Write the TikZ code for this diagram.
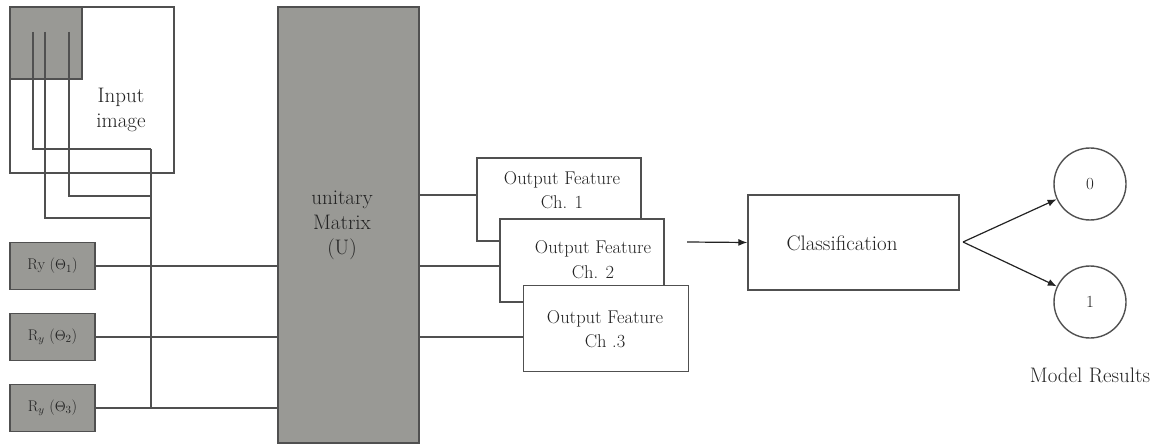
\documentclass[tikz,border=0pt]{standalone}
\usetikzlibrary{arrows.meta}
\definecolor{boxgray}{RGB}{153,153,149}
\definecolor{linegray}{RGB}{80,80,80}
\definecolor{txtgray}{RGB}{35,35,35}
\begin{document}
\begin{tikzpicture}[x=1pt,y=-1pt,
  ln/.style={draw=linegray,line width=1.4pt},
  arr/.style={draw=txtgray,line width=1.2pt,-{Latex[length=9pt,width=7pt]}},
  bx/.style={draw=linegray,line width=1.4pt,inner sep=0pt},
  wbox/.style={bx,fill=white},
  gbox/.style={bx,fill=boxgray},
  txt/.style={font=\fontsize{21}{25}\selectfont,text=txtgray,align=center,inner sep=0pt},
  otxt/.style={font=\fontsize{18.5}{24.5}\selectfont,text=txtgray,align=center,inner sep=0pt},
  small/.style={font=\fontsize{15.5}{18}\selectfont,text=txtgray,inner sep=0pt},
  circ/.style={circle,draw=linegray,line width=1.4pt,minimum size=72pt,inner sep=0pt,font=\fontsize{17}{20}\selectfont,text=txtgray}]
\useasboundingbox (0,0) rectangle (1158,446);
% input image
\node[wbox,minimum width=164pt,minimum height=166pt] (img) at (92,90) {};
\node[gbox,minimum width=72pt,minimum height=72pt] (patch) at (46,43) {};
\node[txt] (imgtxt) at (121,110) {Input\\image};
% Ry gates
\node[gbox,minimum width=85pt,minimum height=47pt,small] (ry1) at (52.5,266) {Ry ($\Theta_1$)};
\node[gbox,minimum width=85pt,minimum height=47pt,small] (ry2) at (52.5,337) {R$_y$ ($\Theta_2$)};
\node[gbox,minimum width=85pt,minimum height=47pt,small] (ry3) at (52.5,408) {R$_y$ ($\Theta_3$)};
% unitary
\node[gbox,minimum width=141pt,minimum height=436pt] (U) at (348.5,225) {};
\node[txt] (Utxt) at (342,225) {unitary\\Matrix\\(U)};
% wires from image
\coordinate (s1) at (33,32);
\coordinate (s2) at (45,32);
\coordinate (s3) at (69,32);
\coordinate (bt) at (151,149);
\coordinate (b3) at (151,196);
\coordinate (b2) at (151,218);
\draw[ln] (s1) |- (bt);
\draw[ln] (s3) |- (b3);
\draw[ln] (s2) |- (b2);
\draw[ln] (bt) -- (bt |- ry3.east);
\draw[ln] (ry1.east) -- (ry1.east -| U.west);
\draw[ln] (ry2.east) -- (ry2.east -| U.west);
\draw[ln] (ry3.east) -- (ry3.east -| U.west);
% outputs
\coordinate (u1) at (419,195);
\coordinate (u2) at (419,266);
\coordinate (u3) at (419,337);
\node[wbox,minimum width=164pt,minimum height=83pt] (o1) at (559,199.5) {};
\node[otxt] (o1t) at (562,190) {Output Feature\\Ch. 1};
\node[wbox,minimum width=164pt,minimum height=83pt] (o2) at (582,260.5) {};
\node[otxt] (o2t) at (593,259.5) {Output Feature\\Ch. 2};
\node[wbox,minimum width=165pt,minimum height=86pt] (o3) at (606,328.5) {};
\node[otxt] (o3t) at (605,329) {Output Feature\\Ch .3};
\draw[ln] (u1) -- (u1 -| o1.west);
\draw[ln] (u2) -- (u2 -| o2.west);
\draw[ln] (u3) -- (u3 -| o3.west);
% classification
\node[wbox,minimum width=211pt,minimum height=95pt] (cls) at (853.5,242.5) {};
\node[txt] (clst) at (842,243) {Classification};
\coordinate (a0) at (687,242);
\draw[arr] (a0) -- (cls.west);
% results
\node[circ] (c0) at (1090,184) {0};
\node[circ] (c1) at (1090,302) {1};
\coordinate (ce) at (963,242);
\draw[arr] (ce) -- (c0);
\draw[arr] (ce) -- (c1);
\node[txt] (mr) at (1090,375) {Model Results};
\end{tikzpicture}
\end{document}
